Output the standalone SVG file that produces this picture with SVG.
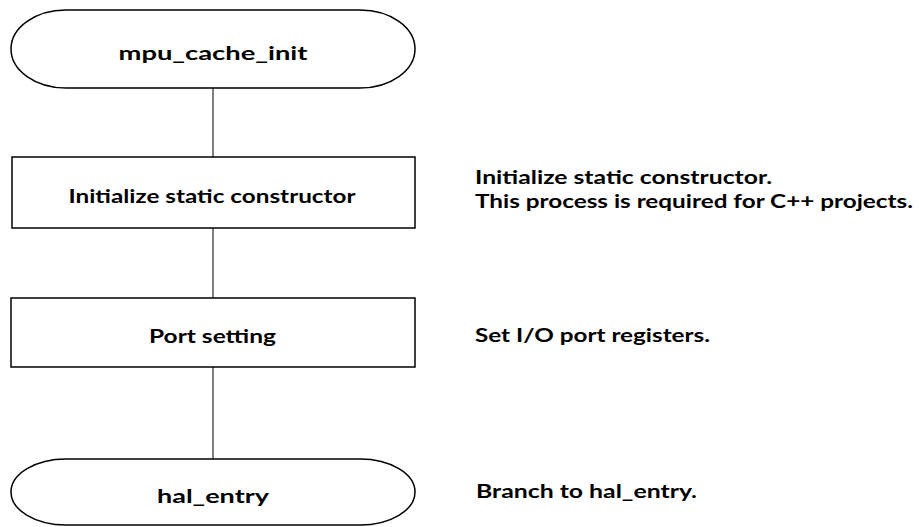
<svg xmlns="http://www.w3.org/2000/svg" width="919" height="527" viewBox="0 0 919 527">
<style>
.shape{fill:#fff;stroke:#000;stroke-width:1.5}
.conn{stroke:#000;stroke-width:1;fill:none}
text{font-family:Lato,"Liberation Sans",Arial,sans-serif;font-weight:bold;font-size:19.5px;fill:#000}
.c{text-anchor:middle}
</style>
<rect width="919" height="527" fill="#fff"/>
<g id="connectors">
<line class="conn" x1="213" y1="88" x2="213" y2="157"/>
<line class="conn" x1="213" y1="228" x2="213" y2="298"/>
<line class="conn" x1="213" y1="367" x2="213" y2="459"/>
</g>
<g id="start">
<rect class="shape" x="11" y="10" width="404" height="78" rx="55" ry="39"/>
<text class="c" x="213" y="59.5" textLength="189" lengthAdjust="spacingAndGlyphs">mpu_cache_init</text>
</g>
<g id="init-ctor">
<rect class="shape" x="12" y="157" width="403" height="71"/>
<text class="c" x="212" y="202.5" textLength="287" lengthAdjust="spacingAndGlyphs">Initialize static constructor</text>
</g>
<g id="port">
<rect class="shape" x="11" y="298" width="404" height="69"/>
<text class="c" x="212.5" y="342.5" textLength="127" lengthAdjust="spacingAndGlyphs">Port setting</text>
</g>
<g id="end">
<rect class="shape" x="11" y="459" width="404" height="66" rx="55" ry="33"/>
<text class="c" x="213" y="502.5" textLength="112" lengthAdjust="spacingAndGlyphs">hal_entry</text>
</g>
<g id="notes">
<text x="475" y="183.5" textLength="297" lengthAdjust="spacingAndGlyphs">Initialize static constructor.</text>
<text x="475" y="207.5" textLength="438" lengthAdjust="spacingAndGlyphs">This process is required for C++ projects.</text>
<text x="475" y="341.5" textLength="235" lengthAdjust="spacingAndGlyphs">Set I/O port registers.</text>
<text x="476" y="497.5" textLength="221" lengthAdjust="spacingAndGlyphs">Branch to hal_entry.</text>
</g>
</svg>
